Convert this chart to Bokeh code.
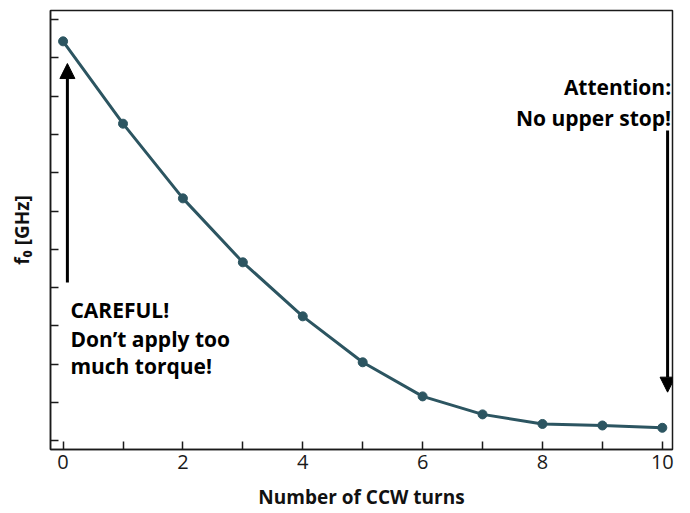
from bokeh.plotting import figure
from bokeh.models import Range1d, FixedTicker, Label, Arrow, NormalHead, CustomLabelingPolicy
from bokeh.embed import file_html
from bokeh.resources import INLINE

# ---- data (y in tick units, the axis has no numbers) ----
turns = [0, 1, 2, 3, 4, 5, 6, 7, 8, 9, 10]
f0 = [10.43, 8.28, 6.33, 4.66, 3.25, 2.05, 1.16, 0.69, 0.44, 0.40, 0.34]

x_major_ticks = [0, 2, 4, 6, 8, 10]
x_minor_ticks = [1, 3, 5, 7, 9]
y_ticks = [0, 1, 2, 3, 4, 5, 6, 7, 8, 9, 10, 11]

x_title = "Number of CCW turns"
y_title = "f\u2080 [GHz]"
left_note = ["CAREFUL!", "Don\u2019t apply too", "much torque!"]
right_note = ["Attention:", "No upper stop!"]

LINE_COLOR = "#2c5561"
FONT = "Open Sans"

p = figure(width=690, height=513, output_backend="svg", toolbar_location=None,
           x_range=Range1d(-0.21, 10.17), y_range=Range1d(-0.227, 11.235),
           min_border_left=50, min_border_right=18, min_border_top=10,
           min_border_bottom=64)

p.xgrid.visible = False
p.ygrid.visible = False
p.outline_line_color = "#1a1a1a"
p.outline_line_width = 1.5
p.outline_line_alpha = 1.0
p.background_fill_color = "white"
p.border_fill_color = "white"

# x axis
xa = p.xaxis[0]
xa.ticker = FixedTicker(ticks=x_major_ticks, minor_ticks=x_minor_ticks)
xa.axis_line_color = "#1a1a1a"
xa.axis_line_width = 1.5
xa.major_tick_in = 8
xa.major_tick_out = 0
xa.minor_tick_in = 8
xa.minor_tick_out = 0
xa.major_tick_line_width = 1.5
xa.minor_tick_line_width = 1.5
xa.major_tick_line_color = "#1a1a1a"
xa.minor_tick_line_color = "#1a1a1a"
xa.major_label_text_font = FONT
xa.major_label_text_font_size = "20px"
xa.major_label_text_color = "#1a1a1a"
xa.major_label_standoff = 5
xa.axis_label = x_title
xa.axis_label_text_font = FONT
xa.axis_label_text_font_style = "bold"
xa.axis_label_text_font_size = "19px"
xa.axis_label_text_color = "#111111"
xa.axis_label_standoff = 12

# y axis (ticks only, no numbers)
ya = p.yaxis[0]
ya.ticker = FixedTicker(ticks=y_ticks, minor_ticks=[])
ya.axis_line_color = "#1a1a1a"
ya.axis_line_width = 1.5
ya.major_tick_in = 8
ya.major_tick_out = 0
ya.minor_tick_in = 0
ya.minor_tick_out = 0
ya.major_tick_line_width = 1.5
ya.major_tick_line_color = "#1a1a1a"
ya.major_label_text_font_size = "1px"
ya.major_label_policy = CustomLabelingPolicy(
    code="for (const i of Array.from(indices)) { indices.unset(i) }\nreturn indices")
ya.major_label_standoff = 0
ya.axis_label = y_title
ya.axis_label_text_font = FONT
ya.axis_label_text_font_style = "bold"
ya.axis_label_text_font_size = "19px"
ya.axis_label_text_color = "#111111"
ya.axis_label_standoff = 11

# curve
p.line(turns, f0, line_color=LINE_COLOR, line_width=3)
p.scatter(turns, f0, size=9, fill_color=LINE_COLOR, line_color=LINE_COLOR)

# annotations (positions in data units)
left_arrow = dict(x=0.072, y0=4.13, y1=9.85)
right_arrow = dict(x=10.088, y0=8.10, y1=1.27)
left_text_x = 0.122
left_text_y = [3.405, 2.663, 1.966]
right_text_x = 10.147
right_text_y = [9.232, 8.433]

p.add_layout(Arrow(end=NormalHead(size=15, fill_color="black", line_color="black"),
                   x_start=left_arrow["x"], y_start=left_arrow["y0"],
                   x_end=left_arrow["x"], y_end=left_arrow["y1"],
                   line_color="black", line_width=3))
p.add_layout(Arrow(end=NormalHead(size=15, fill_color="black", line_color="black"),
                   x_start=right_arrow["x"], y_start=right_arrow["y0"],
                   x_end=right_arrow["x"], y_end=right_arrow["y1"],
                   line_color="black", line_width=3))

for txt, yy in zip(left_note, left_text_y):
    p.add_layout(Label(x=left_text_x, y=yy, text=txt, text_font=FONT,
                       text_font_style="bold", text_font_size="21px",
                       text_color="black", text_align="left",
                       text_baseline="alphabetic"))
for txt, yy in zip(right_note, right_text_y):
    p.add_layout(Label(x=right_text_x, y=yy, text=txt, text_font=FONT,
                       text_font_style="bold", text_font_size="21px",
                       text_color="black", text_align="right",
                       text_baseline="alphabetic"))

open("out.html", "w").write(file_html(p, INLINE))
